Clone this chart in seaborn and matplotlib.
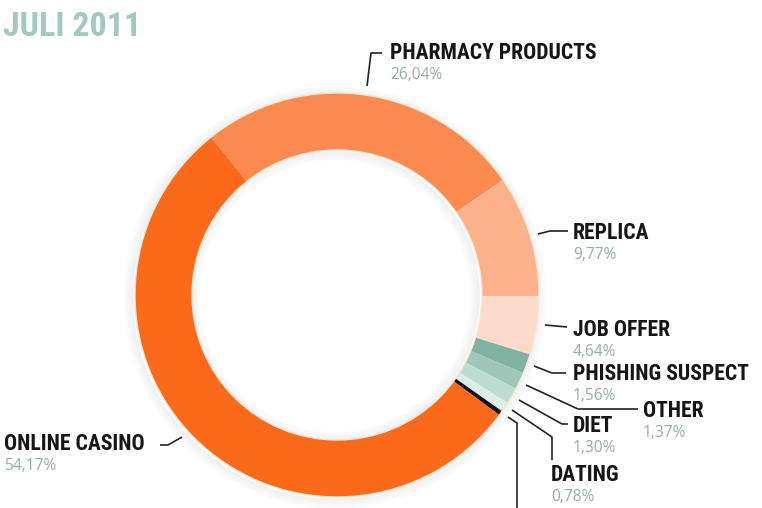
import matplotlib
matplotlib.use("Agg")
import matplotlib.pyplot as plt
import matplotlib.font_manager as fm
from matplotlib.patches import Wedge, Circle
import seaborn as sns

# ---------------- data ----------------
categories = ["PHARMACY PRODUCTS", "REPLICA", "JOB OFFER", "PHISHING SUSPECT",
              "OTHER", "DIET", "DATING", "", "ONLINE CASINO"]
shares = [26.04, 9.77, 4.64, 1.56, 1.37, 1.30, 0.78, 0.37, 54.17]
pct_labels = ["26,04%", "9,77%", "4,64%", "1,56%", "1,37%", "1,30%", "0,78%", "", "54,17%"]
title_text = "JULI 2011"

colors = ["#FB8A50", "#FBB18A", "#FCDBCA", "#7FB2A2", "#9EC7B9",
          "#BDDDD2", "#DAEEE7", "#111111", "#FB6A1A"]

# ---------------- style ----------------
sns.set_theme(style="white")
names = {f.name for f in fm.fontManager.ttflist}


def pick(cands):
    for c in cands:
        if c in names:
            return c
    return "DejaVu Sans"


label_font = pick(["Liberation Sans Narrow", "Roboto Condensed", "DejaVu Sans"])
pct_font = pick(["Open Sans", "Noto Sans", "DejaVu Sans"])
plt.rcParams["font.family"] = [label_font, "DejaVu Sans"]

W, H = 762, 508
fig = plt.figure(figsize=(W / 100, H / 100), dpi=100)
ax = fig.add_axes([0, 0, 1, 1])
ax.set_xlim(0, W)
ax.set_ylim(0, H)
ax.axis("off")


def Y(y):
    return H - y


cx, cy = 337, Y(295)
R, r = 202, 145

# soft shadow around the ring
for i in range(10):
    ax.add_patch(Wedge((cx - 2, cy - 2), R + 10 - i, 0, 360, width=1.2,
                       color="#9a9a9a", alpha=0.010 + 0.012 * i, lw=0, zorder=1))
    ax.add_patch(Wedge((cx - 2, cy - 1), r - 9 + i, 0, 360, width=1.2,
                       color="#9a9a9a", alpha=0.010 + 0.012 * i, lw=0, zorder=1))

ax.pie(shares, colors=colors, startangle=128.5, counterclock=False,
       radius=R, center=(cx, cy), frame=True,
       wedgeprops=dict(width=R - r, linewidth=0, zorder=2))
ax.set_xlim(0, W)
ax.set_ylim(0, H)
ax.set_aspect("equal")
ax.axis("off")

# thin cream outlines on ring edges
ax.add_patch(Circle((cx, cy), R, fill=False, ec="#F6E7D4", lw=1.0, zorder=3))
ax.add_patch(Circle((cx, cy), r, fill=False, ec="#F6E7D4", lw=1.0, zorder=3))

# title
ax.text(3, Y(36), title_text, fontsize=24.5, fontweight="bold", color="#A3C8C0",
        family=[label_font, "DejaVu Sans"], ha="left", va="baseline")

# label positions (x, baseline y) and leader polylines
label_pos = {
    "PHARMACY PRODUCTS": (390, 59),
    "REPLICA": (573, 239),
    "JOB OFFER": (573, 336),
    "PHISHING SUSPECT": (573, 380),
    "OTHER": (643, 417),
    "DIET": (573, 432),
    "DATING": (551, 481),
    "ONLINE CASINO": (4, 450),
}
leaders = {
    "PHARMACY PRODUCTS": [(367, 86), (371, 53), (382, 53)],
    "REPLICA": [(538, 234), (550, 231), (568, 231)],
    "JOB OFFER": [(545, 325), (567, 327)],
    "PHISHING SUSPECT": [(534, 366), (552, 373), (566, 373)],
    "OTHER": [(526, 385), (578, 409), (638, 409)],
    "DIET": [(519, 400), (562, 424), (568, 424)],
    "DATING": [(512, 410), (552, 437), (552, 460)],
    "": [(508, 417), (517, 423), (517, 510)],
    "ONLINE CASINO": [(160, 445), (168, 445), (182, 437)],
}

for cat, pct in zip(categories, pct_labels):
    pts = leaders[cat]
    ax.plot([p[0] for p in pts], [Y(p[1]) for p in pts], color="#222222",
            lw=1.2, solid_capstyle="butt", zorder=4)
    if cat:
        x, yb = label_pos[cat]
        ax.text(x, Y(yb), cat, fontsize=15.6, fontweight="bold", color="#161616",
                family=[label_font, "DejaVu Sans"], ha="left", va="baseline")
        ax.text(x, Y(yb + 20), pct, fontsize=11.2, color="#97ADA6",
                family=[pct_font, "DejaVu Sans"], ha="left", va="baseline")

fig.savefig("out.png", dpi=100, facecolor="white")
